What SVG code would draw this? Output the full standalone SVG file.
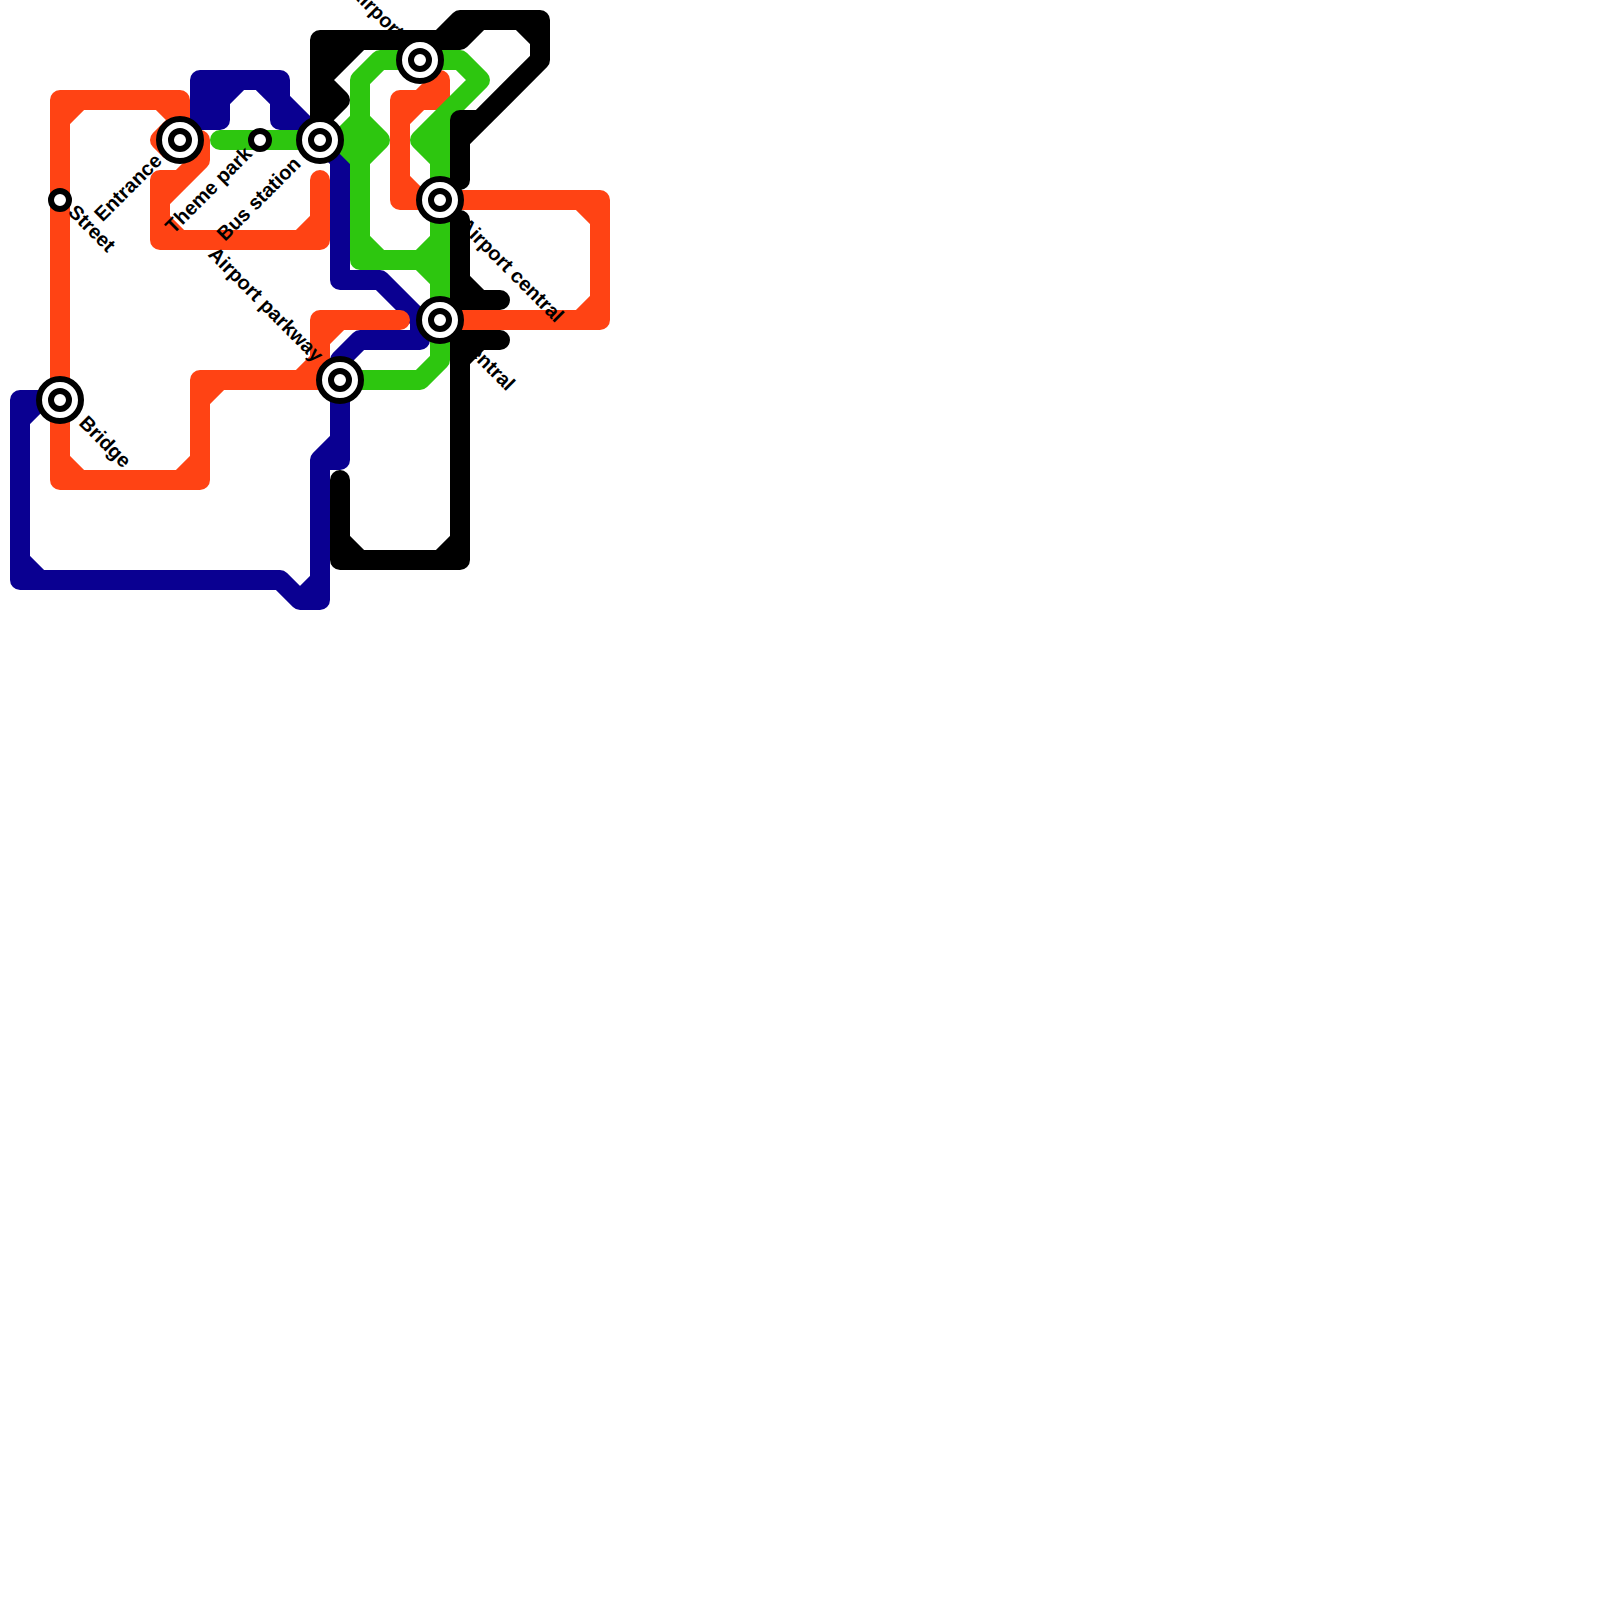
<svg xmlns="http://www.w3.org/2000/svg" width="1600" height="1600" viewBox="0 0 1600 1600">
<style>
.l{fill:none;stroke-width:20;stroke-linejoin:round;stroke-linecap:round}
.t{font-family:"Liberation Sans",Arial,sans-serif;font-weight:700;font-size:20px;fill:#000}
.a{fill:#fff;stroke:#000;stroke-width:6}
</style>
<rect width="1600" height="1600" fill="#fff"/>
<g id="connectors">
<path class="l" stroke="#0a0091" d="M60,400H20V580H280L300,600H320V460H340V360L360,340H420V320L380,280H340V160L320,140L280,100V80H200V120H220V100L240,80H200V100H220M280,100V120H300M320,460L340,440M20,420L40,400M20,560L40,580M300,600L320,580M260,80L280,100"/>
<path class="l" stroke="#ff4314" d="M60,400V100H180V120L160,140L170,150M60,120L80,100M160,100L180,120M60,400V480H200V380H340M60,460L80,480M180,480L200,460M200,400L220,380M300,380L320,360V320H400M320,340L340,320M180,140H200V160L160,200V180H180L200,160M160,200V240H320V180M160,220L180,240M300,240L320,220M440,200H600V320H440M580,200L600,220M600,300L580,320M440,200H400V100H440V80M400,180L420,200M400,120L420,100L440,80"/>
<path class="l" stroke="#2dc60f" d="M220,140H340L360,120V160L340,140M360,120L380,140L360,160M360,160V260H420L440,240M360,240L380,260M420,260L440,280M360,120V80L380,60H460L480,80L420,140L440,160M440,120V360L420,380H340"/>
<g id="labels">
<text class="t" transform="translate(67,213) rotate(45)">Street</text>
<text class="t" transform="translate(78,424) rotate(45)">Bridge</text>
<text class="t" text-anchor="end" transform="translate(163,162) rotate(-45)">Entrance</text>
<text class="t" text-anchor="end" transform="translate(253,155) rotate(-45)">Theme park</text>
<text class="t" text-anchor="end" transform="translate(302,165) rotate(-45)">Bus station</text>
<text class="t" text-anchor="end" transform="translate(315,363) rotate(45)">Airport parkway</text>
<text class="t" text-anchor="end" transform="translate(396,40) rotate(45)">Airport</text>
<text class="t" transform="translate(458,226) rotate(45)">Airport central</text>
<text class="t" transform="translate(458,343) rotate(45)">Central</text>
</g>
<path class="l" stroke="#000" d="M320,140V40H460L480,20H540V60L460,140M440,40L460,20H480M320,60H340V40M320,80L360,40M320,120L340,100L320,80M520,20L540,40M460,180V120H480M460,220V300H500M460,280L480,300M500,340H460V560H340V480M460,360L480,340M440,560L460,540M340,540L360,560"/>
</g>
<g id="st-street"><circle class="a" cx="60" cy="200" r="9"/></g>
<g id="st-bridge"><circle class="a" cx="60" cy="400" r="21"/><circle class="a" cx="60" cy="400" r="9"/></g>
<g id="st-entrance"><circle class="a" cx="180" cy="140" r="21"/><circle class="a" cx="180" cy="140" r="9"/></g>
<g id="st-theme-park"><circle class="a" cx="260" cy="140" r="9"/></g>
<g id="st-bus-station"><circle class="a" cx="320" cy="140" r="21"/><circle class="a" cx="320" cy="140" r="9"/></g>
<g id="st-airport-parkway"><circle class="a" cx="340" cy="380" r="21"/><circle class="a" cx="340" cy="380" r="9"/></g>
<g id="st-airport"><circle class="a" cx="420" cy="60" r="21"/><circle class="a" cx="420" cy="60" r="9"/></g>
<g id="st-airport-central"><circle class="a" cx="440" cy="200" r="21"/><circle class="a" cx="440" cy="200" r="9"/></g>
<g id="st-central"><circle class="a" cx="440" cy="320" r="21"/><circle class="a" cx="440" cy="320" r="9"/></g>
</svg>
